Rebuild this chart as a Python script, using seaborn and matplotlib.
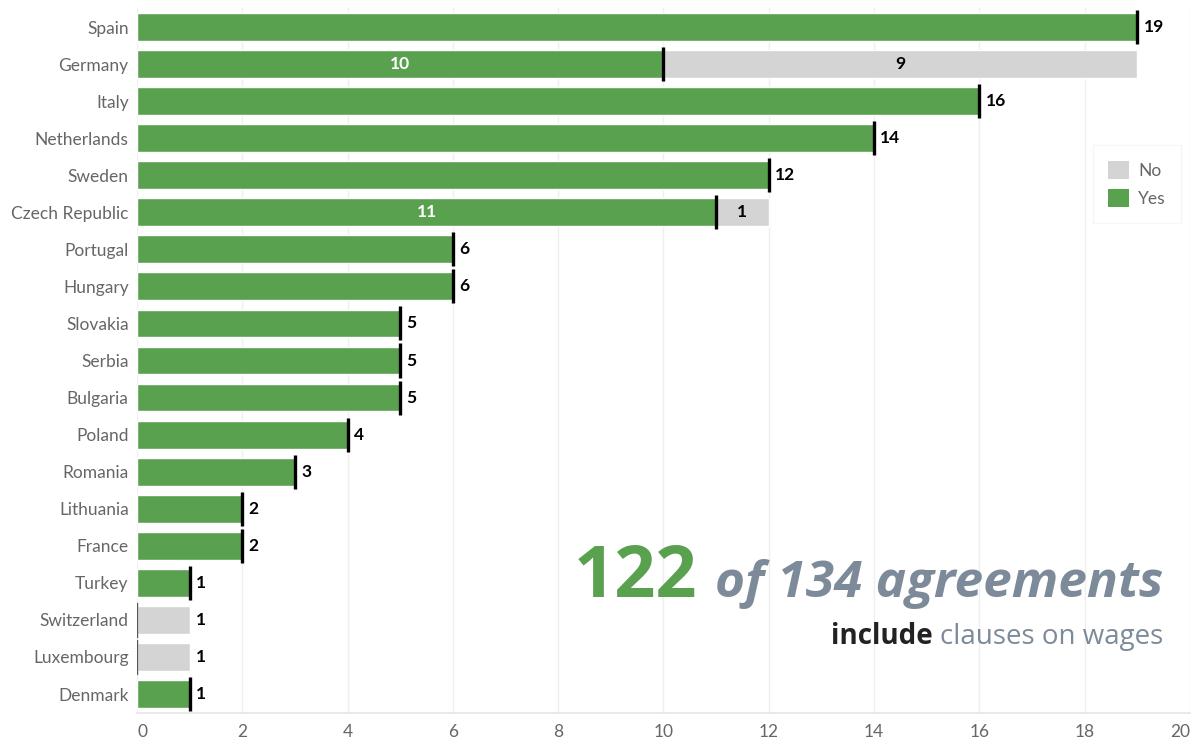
import matplotlib
matplotlib.use("Agg")
import matplotlib.pyplot as plt
import seaborn as sns
import pandas as pd
from matplotlib.patches import Patch

countries = ["Spain", "Germany", "Italy", "Netherlands", "Sweden", "Czech Republic",
             "Portugal", "Hungary", "Slovakia", "Serbia", "Bulgaria", "Poland",
             "Romania", "Lithuania", "France", "Turkey", "Switzerland", "Luxembourg", "Denmark"]
yes_vals = [19, 10, 16, 14, 12, 11, 6, 6, 5, 5, 5, 4, 3, 2, 2, 1, 0, 0, 1]
no_vals = [0, 9, 0, 0, 0, 1, 0, 0, 0, 0, 0, 0, 0, 0, 0, 0, 1, 1, 0]
x_ticks = [0, 2, 4, 6, 8, 10, 12, 14, 16, 18, 20]

GREEN = "#59a14f"
GRAY = "#d4d4d4"
TICK = "#666666"
SLATE = "#7d8a99"

sns.set_theme(style="white")
plt.rcParams['font.family'] = ['Lato', 'DejaVu Sans']

df = pd.DataFrame({"country": countries, "Yes": yes_vals, "No": no_vals})
df["Total"] = df["Yes"] + df["No"]

fig = plt.figure(figsize=(11.97, 7.44), dpi=100)
ax = fig.add_axes([0.1145, 0.0423, 0.8795, 0.9463])

sns.barplot(data=df, y="country", x="Total", color=GRAY, orient="h", width=0.75,
            saturation=1, ax=ax, zorder=2)
sns.barplot(data=df, y="country", x="Yes", color=GREEN, orient="h", width=0.75,
            saturation=1, ax=ax, zorder=3)

ax.set_xlim(0, 20)
ax.set_ylim(len(countries) - 0.5, -0.5)
ax.set_xticks(x_ticks)
ax.set_xticklabels([str(t) for t in x_ticks])
xl = ax.get_xticklabels()
xl[0].set_ha("left")
xl[-1].set_ha("right")
ax.set_xlabel("")
ax.set_ylabel("")
ax.grid(axis="x", color="#efefef", linewidth=1, zorder=0)
ax.set_axisbelow(True)
for s in ["top", "right", "left"]:
    ax.spines[s].set_visible(False)
ax.spines["bottom"].set_color("#e6e6e6")
ax.tick_params(axis="x", colors=TICK, labelsize=12.5, length=0, pad=8)
ax.tick_params(axis="y", colors=TICK, labelsize=12.5, length=0, pad=6)

for i, (y, n) in enumerate(zip(yes_vals, no_vals)):
    if y > 0:
        ax.plot([y, y], [i - 0.46, i + 0.46], color="black", lw=2.4, zorder=5,
                solid_capstyle="butt")
    else:
        ax.plot([0, 0], [i - 0.46, i + 0.46], color="#555555", lw=1.0, zorder=5)
    tot = y + n
    if y > 0 and n > 0:
        ax.text(y / 2, i, str(y), ha="center", va="center", color="white",
                fontsize=12.5, fontweight="bold", zorder=6)
        ax.text(y + n / 2, i, str(n), ha="center", va="center", color="black",
                fontsize=12.5, fontweight="bold", zorder=6)
    else:
        ax.text(tot + 0.12, i, str(tot), ha="left", va="center", color="black",
                fontsize=12.5, fontweight="bold", zorder=6)

handles = [Patch(facecolor=GRAY, edgecolor="none", label="No"),
           Patch(facecolor=GREEN, edgecolor="none", label="Yes")]
leg = ax.legend(handles=handles, loc="upper right", bbox_to_anchor=(1.0, 0.818),
                frameon=True, fontsize=12.5, handlelength=1.2, handleheight=1.2,
                labelcolor=TICK, borderpad=0.9, handletextpad=0.5, labelspacing=0.6)
leg.get_frame().set_edgecolor("#f4f4f4")
leg.get_frame().set_linewidth(1)
leg.get_frame().set_boxstyle("square", pad=0)

# Annotation text
fig.canvas.draw()
r = fig.canvas.get_renderer()
xr = 1163 / 1197
t1 = fig.text(xr, 1 - 597 / 744, "of 134 agreements", ha="right", va="baseline",
              fontsize=37, fontweight="bold", fontstyle="italic", color=SLATE,
              family=["Open Sans", "DejaVu Sans"])
bb = t1.get_window_extent(r)
fig.text((bb.x0 - 18) / 1197, 1 - 597 / 744, "122", ha="right", va="baseline",
         fontsize=52, fontweight="bold", color=GREEN, family=["Open Sans", "DejaVu Sans"])
t2 = fig.text(xr, 1 - 644 / 744, "clauses on wages", ha="right", va="baseline",
              fontsize=20, color=SLATE, family=["Open Sans", "DejaVu Sans"])
bb2 = t2.get_window_extent(r)
fig.text((bb2.x0 - 7) / 1197, 1 - 644 / 744, "include", ha="right", va="baseline",
         fontsize=20, fontweight="bold", color="#222222", family=["Open Sans", "DejaVu Sans"])

fig.savefig("out.png", dpi=100)
